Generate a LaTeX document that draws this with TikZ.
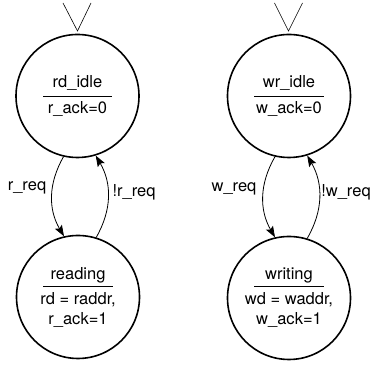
\documentclass[tikz,border=0pt]{standalone}
\usepackage{fontspec}
\setmainfont{TeX Gyre Heros}
\usetikzlibrary{arrows.meta}
\tikzset{
  st/.style={circle, draw, line width=1.6pt, minimum size=123pt, inner sep=0pt},
  lbl/.style={inner sep=0pt, font=\fontsize{16.5}{19}\selectfont},
  tr/.style={-{Stealth[length=11pt,width=8pt,inset=2pt]}, line width=0.8pt},
}
\begin{document}
\begin{tikzpicture}[x=1pt,y=1pt]
\useasboundingbox (0,0) rectangle (373,366);
% read side
\node[st] (rdidle) at (77.5,270){};
\node[lbl] (rdidlet) at (77.5,283){rd\_idle};
\node[lbl] (rdidleo) at (77.5,257){r\_ack=0};
\coordinate (rdl0) at (43,270);
\coordinate (rdl1) at (112,270);
\draw[line width=0.8pt](rdl0) -- (rdl1);
\coordinate (rdv0) at (63,363);
\coordinate (rdv1) at (77.5,335);
\coordinate (rdv2) at (91,363);
\draw[line width=0.6pt](rdv0) -- (rdv1) -- (rdv2);
\node[st] (reading) at (78,69){};
\node[lbl] (readingt) at (78,91){reading};
\coordinate (rgl0) at (43,80);
\coordinate (rgl1) at (113,80);
\draw[line width=0.8pt](rgl0) -- (rgl1);
\node[lbl] (readingo1) at (78,66){rd = raddr,};
\node[lbl] (readingo2) at (78,46){r\_ack=1};
\draw[tr](rdidle.257) to[bend right=30] (reading.103);
\draw[tr](reading.73) to[bend right=30] (rdidle.287);
\node[lbl] (rreq) at (27,178){r\_req};
\node[lbl] (nrreq) at (134,174){!r\_req};
% write side
\node[st] (wridle) at (289,270){};
\node[lbl] (wridlet) at (289,283){wr\_idle};
\node[lbl] (wridleo) at (289,257){w\_ack=0};
\coordinate (wrl0) at (254,270);
\coordinate (wrl1) at (324,270);
\draw[line width=0.8pt](wrl0) -- (wrl1);
\coordinate (wrv0) at (274.5,363);
\coordinate (wrv1) at (288.5,335);
\coordinate (wrv2) at (302.5,363);
\draw[line width=0.6pt](wrv0) -- (wrv1) -- (wrv2);
\node[st] (writing) at (289,68){};
\node[lbl] (writingt) at (289,91){writing};
\coordinate (wgl0) at (254,80);
\coordinate (wgl1) at (324,80);
\draw[line width=0.8pt](wgl0) -- (wgl1);
\node[lbl] (writingo1) at (289,66){wd = waddr,};
\node[lbl] (writingo2) at (289,46){w\_ack=1};
\draw[tr](wridle.257) to[bend right=30] (writing.103);
\draw[tr](writing.73) to[bend right=30] (wridle.287);
\node[lbl] (wreq) at (234,177){w\_req};
\node[lbl] (nwreq) at (346,174){!w\_req};
\end{tikzpicture}
\end{document}
